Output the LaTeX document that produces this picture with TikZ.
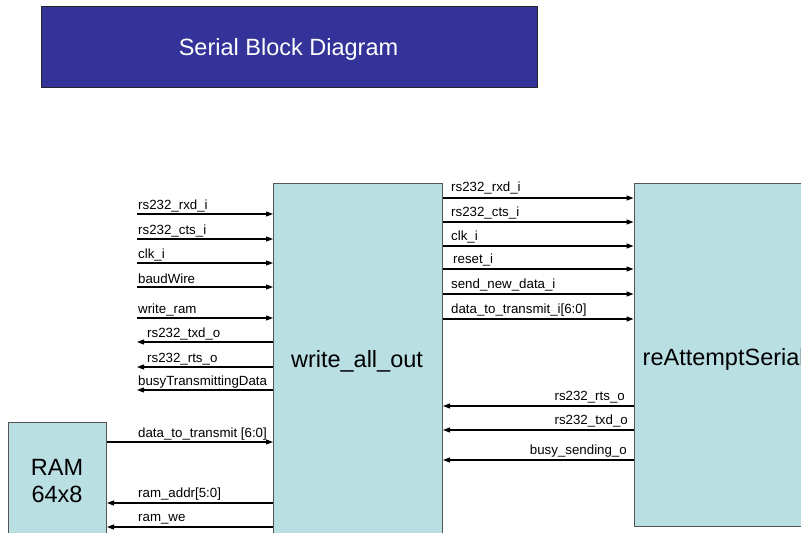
\documentclass[tikz,border=0pt]{standalone}
\usepackage{fontspec}
\setmainfont{Liberation Sans}
\usetikzlibrary{arrows.meta}
\definecolor{titleblue}{RGB}{51,51,153}
\definecolor{boxcyan}{RGB}{185,223,227}
\definecolor{boxedge}{RGB}{85,85,85}
\begin{document}
\begin{tikzpicture}[x=1pt,y=-1pt,
  sig/.style={line width=1.1pt, -{Triangle[length=7pt,width=5pt]}},
  lbl/.style={font=\fontsize{13.3}{16}\selectfont, inner sep=0pt},
  big/.style={font=\fontsize{23.5}{28}\selectfont, inner sep=0pt},
  block/.style={draw=boxedge, line width=1pt, fill=boxcyan, rectangle, anchor=north west, inner sep=0pt},
  titlebox/.style={draw=black!85, line width=0.8pt, fill=titleblue, rectangle, anchor=north west, inner sep=0pt}]
\useasboundingbox (0,0) rectangle (801,533);
\clip (0,0) rectangle (801,533);

% title
\node[titlebox, minimum width=496pt, minimum height=81pt] (title) at (41,6) {};
\node[big, text=white, anchor=base] (titletext) at (288.5,55) {Serial Block Diagram};

% blocks
\node[block, minimum width=169pt, minimum height=380pt] (wao) at (273,183) {};
\node[big, anchor=base] (waotext) at (357,367) {write\_all\_out};
\node[block, minimum width=180pt, minimum height=343pt] (ras) at (633.5,183) {};
\node[big, anchor=base west] (rastext) at (642.5,365) {reAttemptSerial};
\node[block, minimum width=98pt, minimum height=150pt] (ram) at (8,422) {};
\node[big, anchor=base] (ramtext1) at (57,475) {RAM};
\node[big, anchor=base] (ramtext2) at (57,502) {64x8};

% left free ends
\coordinate (l1) at (137,214);
\coordinate (l2) at (137,239);
\coordinate (l3) at (137,263);
\coordinate (l4) at (137,287);
\coordinate (l5) at (137,318);
\coordinate (l6) at (137,342);
\coordinate (l7) at (137,367);
\coordinate (l8) at (137,390);

% left inputs
\draw[sig] (l1) -- (l1 -| wao.west);
\draw[sig] (l2) -- (l2 -| wao.west);
\draw[sig] (l3) -- (l3 -| wao.west);
\draw[sig] (l4) -- (l4 -| wao.west);
\draw[sig] (l5) -- (l5 -| wao.west);
% left outputs
\draw[sig] (l6 -| wao.west) -- (l6);
\draw[sig] (l7 -| wao.west) -- (l7);
\draw[sig] (l8 -| wao.west) -- (l8);

\node[lbl, anchor=base west] (tl1) at (138,209) {rs232\_rxd\_i};
\node[lbl, anchor=base west] (tl2) at (138,234) {rs232\_cts\_i};
\node[lbl, anchor=base west] (tl3) at (138,258) {clk\_i};
\node[lbl, anchor=base west] (tl4) at (138,283) {baudWire};
\node[lbl, anchor=base west] (tl5) at (138,313) {write\_ram};
\node[lbl, anchor=base west] (tl6) at (147,337) {rs232\_txd\_o};
\node[lbl, anchor=base west] (tl7) at (147,362) {rs232\_rts\_o};
\node[lbl, anchor=base west] (tl8) at (138,385) {busyTransmittingData};

% RAM connections
\draw[sig] (ram.east |- 0,442) -- (wao.west |- 0,442);
\draw[sig] (wao.west |- 0,503) -- (ram.east |- 0,503);
\draw[sig] (wao.west |- 0,527) -- (ram.east |- 0,527);
\node[lbl, anchor=base west] (tr1) at (138,437) {data\_to\_transmit [6:0]};
\node[lbl, anchor=base west] (tr2) at (138,497) {ram\_addr[5:0]};
\node[lbl, anchor=base west] (tr3) at (138,521) {ram\_we};

% right side, to reAttemptSerial
\draw[sig] (wao.east |- 0,198) -- (ras.west |- 0,198);
\draw[sig] (wao.east |- 0,222) -- (ras.west |- 0,222);
\draw[sig] (wao.east |- 0,246) -- (ras.west |- 0,246);
\draw[sig] (wao.east |- 0,269) -- (ras.west |- 0,269);
\draw[sig] (wao.east |- 0,294) -- (ras.west |- 0,294);
\draw[sig] (wao.east |- 0,319) -- (ras.west |- 0,319);
\node[lbl, anchor=base west] (tw1) at (451,191) {rs232\_rxd\_i};
\node[lbl, anchor=base west] (tw2) at (451,216) {rs232\_cts\_i};
\node[lbl, anchor=base west] (tw3) at (451,240) {clk\_i};
\node[lbl, anchor=base west] (tw4) at (453,263) {reset\_i};
\node[lbl, anchor=base west] (tw5) at (451,288) {send\_new\_data\_i};
\node[lbl, anchor=base west] (tw6) at (451,313) {data\_to\_transmit\_i[6:0]};

% right side, back to write_all_out
\draw[sig] (ras.west |- 0,406) -- (wao.east |- 0,406);
\draw[sig] (ras.west |- 0,430) -- (wao.east |- 0,430);
\draw[sig] (ras.west |- 0,460) -- (wao.east |- 0,460);
\node[lbl, anchor=base east] (tb1) at (625,400) {rs232\_rts\_o};
\node[lbl, anchor=base east] (tb2) at (628,424) {rs232\_txd\_o};
\node[lbl, anchor=base east] (tb3) at (627,454) {busy\_sending\_o};
\end{tikzpicture}
\end{document}
